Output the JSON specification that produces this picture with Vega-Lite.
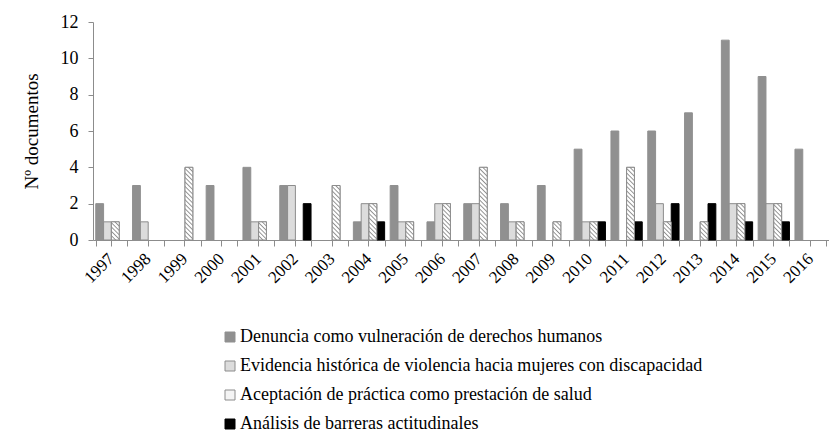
{
  "$schema": "https://vega.github.io/schema/vega-lite/v6.json",
  "width": 736,
  "height": 218,
  "autosize": {"type": "none"},
  "padding": {"left": 93, "top": 22, "right": 0, "bottom": 199},
  "background": "white",
  "config": {
    "view": {"stroke": null},
    "font": "Liberation Serif",
    "axis": {"grid": false, "domainColor": "#8c8c8c", "tickColor": "#8c8c8c", "labelColor": "#000000", "labelFont": "Liberation Serif", "titleFont": "Liberation Serif", "titleColor": "#000000", "titleFontWeight": "normal"},
    "legend": {"labelFont": "Liberation Serif", "labelColor": "#000000"}
  },
  "data": {"values": [
    {"year": "1997", "serie": "Denuncia como vulneración de derechos humanos", "value": 2},
    {"year": "1997", "serie": "Evidencia histórica de violencia hacia mujeres con discapacidad", "value": 1},
    {"year": "1997", "serie": "Aceptación de práctica como prestación de salud", "value": 1},
    {"year": "1998", "serie": "Denuncia como vulneración de derechos humanos", "value": 3},
    {"year": "1998", "serie": "Evidencia histórica de violencia hacia mujeres con discapacidad", "value": 1},
    {"year": "1999", "serie": "Aceptación de práctica como prestación de salud", "value": 4},
    {"year": "2000", "serie": "Denuncia como vulneración de derechos humanos", "value": 3},
    {"year": "2001", "serie": "Denuncia como vulneración de derechos humanos", "value": 4},
    {"year": "2001", "serie": "Evidencia histórica de violencia hacia mujeres con discapacidad", "value": 1},
    {"year": "2001", "serie": "Aceptación de práctica como prestación de salud", "value": 1},
    {"year": "2002", "serie": "Denuncia como vulneración de derechos humanos", "value": 3},
    {"year": "2002", "serie": "Evidencia histórica de violencia hacia mujeres con discapacidad", "value": 3},
    {"year": "2002", "serie": "Análisis de barreras actitudinales", "value": 2},
    {"year": "2003", "serie": "Aceptación de práctica como prestación de salud", "value": 3},
    {"year": "2004", "serie": "Denuncia como vulneración de derechos humanos", "value": 1},
    {"year": "2004", "serie": "Evidencia histórica de violencia hacia mujeres con discapacidad", "value": 2},
    {"year": "2004", "serie": "Aceptación de práctica como prestación de salud", "value": 2},
    {"year": "2004", "serie": "Análisis de barreras actitudinales", "value": 1},
    {"year": "2005", "serie": "Denuncia como vulneración de derechos humanos", "value": 3},
    {"year": "2005", "serie": "Evidencia histórica de violencia hacia mujeres con discapacidad", "value": 1},
    {"year": "2005", "serie": "Aceptación de práctica como prestación de salud", "value": 1},
    {"year": "2006", "serie": "Denuncia como vulneración de derechos humanos", "value": 1},
    {"year": "2006", "serie": "Evidencia histórica de violencia hacia mujeres con discapacidad", "value": 2},
    {"year": "2006", "serie": "Aceptación de práctica como prestación de salud", "value": 2},
    {"year": "2007", "serie": "Denuncia como vulneración de derechos humanos", "value": 2},
    {"year": "2007", "serie": "Evidencia histórica de violencia hacia mujeres con discapacidad", "value": 2},
    {"year": "2007", "serie": "Aceptación de práctica como prestación de salud", "value": 4},
    {"year": "2008", "serie": "Denuncia como vulneración de derechos humanos", "value": 2},
    {"year": "2008", "serie": "Evidencia histórica de violencia hacia mujeres con discapacidad", "value": 1},
    {"year": "2008", "serie": "Aceptación de práctica como prestación de salud", "value": 1},
    {"year": "2009", "serie": "Denuncia como vulneración de derechos humanos", "value": 3},
    {"year": "2009", "serie": "Aceptación de práctica como prestación de salud", "value": 1},
    {"year": "2010", "serie": "Denuncia como vulneración de derechos humanos", "value": 5},
    {"year": "2010", "serie": "Evidencia histórica de violencia hacia mujeres con discapacidad", "value": 1},
    {"year": "2010", "serie": "Aceptación de práctica como prestación de salud", "value": 1},
    {"year": "2010", "serie": "Análisis de barreras actitudinales", "value": 1},
    {"year": "2011", "serie": "Denuncia como vulneración de derechos humanos", "value": 6},
    {"year": "2011", "serie": "Aceptación de práctica como prestación de salud", "value": 4},
    {"year": "2011", "serie": "Análisis de barreras actitudinales", "value": 1},
    {"year": "2012", "serie": "Denuncia como vulneración de derechos humanos", "value": 6},
    {"year": "2012", "serie": "Evidencia histórica de violencia hacia mujeres con discapacidad", "value": 2},
    {"year": "2012", "serie": "Aceptación de práctica como prestación de salud", "value": 1},
    {"year": "2012", "serie": "Análisis de barreras actitudinales", "value": 2},
    {"year": "2013", "serie": "Denuncia como vulneración de derechos humanos", "value": 7},
    {"year": "2013", "serie": "Aceptación de práctica como prestación de salud", "value": 1},
    {"year": "2013", "serie": "Análisis de barreras actitudinales", "value": 2},
    {"year": "2014", "serie": "Denuncia como vulneración de derechos humanos", "value": 11},
    {"year": "2014", "serie": "Evidencia histórica de violencia hacia mujeres con discapacidad", "value": 2},
    {"year": "2014", "serie": "Aceptación de práctica como prestación de salud", "value": 2},
    {"year": "2014", "serie": "Análisis de barreras actitudinales", "value": 1},
    {"year": "2015", "serie": "Denuncia como vulneración de derechos humanos", "value": 9},
    {"year": "2015", "serie": "Evidencia histórica de violencia hacia mujeres con discapacidad", "value": 2},
    {"year": "2015", "serie": "Aceptación de práctica como prestación de salud", "value": 2},
    {"year": "2015", "serie": "Análisis de barreras actitudinales", "value": 1},
    {"year": "2016", "serie": "Denuncia como vulneración de derechos humanos", "value": 5}
  ]},
  "encoding": {
    "y": {"field": "value", "type": "quantitative", "scale": {"domain": [0, 12], "nice": false}, "axis": {"title": "Nº documentos", "values": [0, 2, 4, 6, 8, 10, 12], "tickSize": 5, "labelPadding": 10, "labelFontSize": 18, "titleFontSize": 19, "titlePadding": 19}},
    "xOffset": {"field": "serie", "type": "nominal", "scale": {"domain": ["Denuncia como vulneración de derechos humanos", "Evidencia histórica de violencia hacia mujeres con discapacidad", "Aceptación de práctica como prestación de salud", "Análisis de barreras actitudinales"], "paddingInner": 0, "paddingOuter": 0}}
  },
  "layer": [
    {
      "mark": {"type": "bar", "strokeWidth": 1},
      "encoding": {
        "x": {"field": "year", "type": "nominal", "scale": {"paddingInner": 0.15, "paddingOuter": 0.075}, "axis": {"orient": "bottom", "title": null, "labelAngle": -45, "labelAlign": "right", "labelBaseline": "middle", "labelFontSize": 17, "labelPadding": 10, "tickSize": 6, "labelOverlap": false}},
        "color": {"field": "serie", "type": "nominal", "scale": {"domain": ["Denuncia como vulneración de derechos humanos", "Evidencia histórica de violencia hacia mujeres con discapacidad", "Aceptación de práctica como prestación de salud", "Análisis de barreras actitudinales"], "range": ["#909090", "#dcdcdc", "#f4f4f4", "#000000"]},
          "legend": {"orient": "none", "legendX": 128, "legendY": 306, "direction": "vertical", "title": null, "labelFontSize": 18, "symbolType": "square", "symbolSize": 100, "rowPadding": 11, "labelOffset": 1, "padding": 0, "labelLimit": 0, "symbolStrokeColor": "#8c8c8c", "symbolStrokeWidth": 1}},
        "stroke": {"field": "serie", "type": "nominal", "scale": {"domain": ["Denuncia como vulneración de derechos humanos", "Evidencia histórica de violencia hacia mujeres con discapacidad", "Aceptación de práctica como prestación de salud", "Análisis de barreras actitudinales"], "range": ["#909090", "#8c8c8c", "#8c8c8c", "#000000"]}, "legend": null}
      }
    },
    {
      "transform": [{"filter": "datum.serie === 'Aceptación de práctica como prestación de salud' && datum.value === 1"}],
      "mark": {"type": "bar", "stroke": "#8c8c8c", "strokeWidth": 1, "fill": {"gradient": "linear", "x1": 0, "y1": 1, "x2": 0.5195, "y2": -0.2069, "stops": [
        {"offset": 0, "color": "#909090"}, {"offset": 0.05, "color": "#ffffff"}, {"offset": 0.1167, "color": "#ffffff"},
        {"offset": 0.1667, "color": "#909090"}, {"offset": 0.2167, "color": "#ffffff"}, {"offset": 0.2833, "color": "#ffffff"},
        {"offset": 0.3333, "color": "#909090"}, {"offset": 0.3833, "color": "#ffffff"}, {"offset": 0.45, "color": "#ffffff"},
        {"offset": 0.5, "color": "#909090"}, {"offset": 0.55, "color": "#ffffff"}, {"offset": 0.6167, "color": "#ffffff"},
        {"offset": 0.6667, "color": "#909090"}, {"offset": 0.7167, "color": "#ffffff"}, {"offset": 0.7833, "color": "#ffffff"},
        {"offset": 0.8333, "color": "#909090"}, {"offset": 0.8833, "color": "#ffffff"}, {"offset": 0.95, "color": "#ffffff"},
        {"offset": 1, "color": "#909090"}]}},
      "encoding": {"x": {"field": "year", "type": "nominal", "scale": {"paddingInner": 0.15, "paddingOuter": 0.075}, "axis": null}}
    },
    {
      "transform": [{"filter": "datum.serie === 'Aceptación de práctica como prestación de salud' && datum.value === 2"}],
      "mark": {"type": "bar", "stroke": "#8c8c8c", "strokeWidth": 1, "fill": {"gradient": "linear", "x1": 0, "y1": 1, "x2": 0.25, "y2": -0.1615, "stops": [
        {"offset": 0, "color": "#909090"}, {"offset": 0.03, "color": "#ffffff"}, {"offset": 0.07, "color": "#ffffff"},
        {"offset": 0.1, "color": "#909090"}, {"offset": 0.13, "color": "#ffffff"}, {"offset": 0.17, "color": "#ffffff"},
        {"offset": 0.2, "color": "#909090"}, {"offset": 0.23, "color": "#ffffff"}, {"offset": 0.27, "color": "#ffffff"},
        {"offset": 0.3, "color": "#909090"}, {"offset": 0.33, "color": "#ffffff"}, {"offset": 0.37, "color": "#ffffff"},
        {"offset": 0.4, "color": "#909090"}, {"offset": 0.43, "color": "#ffffff"}, {"offset": 0.47, "color": "#ffffff"},
        {"offset": 0.5, "color": "#909090"}, {"offset": 0.53, "color": "#ffffff"}, {"offset": 0.57, "color": "#ffffff"},
        {"offset": 0.6, "color": "#909090"}, {"offset": 0.63, "color": "#ffffff"}, {"offset": 0.67, "color": "#ffffff"},
        {"offset": 0.7, "color": "#909090"}, {"offset": 0.73, "color": "#ffffff"}, {"offset": 0.77, "color": "#ffffff"},
        {"offset": 0.8, "color": "#909090"}, {"offset": 0.83, "color": "#ffffff"}, {"offset": 0.87, "color": "#ffffff"},
        {"offset": 0.9, "color": "#909090"}, {"offset": 0.93, "color": "#ffffff"}, {"offset": 0.97, "color": "#ffffff"},
        {"offset": 1, "color": "#909090"}]}},
      "encoding": {"x": {"field": "year", "type": "nominal", "scale": {"paddingInner": 0.15, "paddingOuter": 0.075}, "axis": null}}
    },
    {
      "transform": [{"filter": "datum.serie === 'Aceptación de práctica como prestación de salud' && datum.value === 3"}],
      "mark": {"type": "bar", "stroke": "#8c8c8c", "strokeWidth": 1, "fill": {"gradient": "linear", "x1": 0, "y1": 1, "x2": 0.1608, "y2": -0.1204, "stops": [
        {"offset": 0, "color": "#909090"}, {"offset": 0.0214, "color": "#ffffff"}, {"offset": 0.05, "color": "#ffffff"},
        {"offset": 0.0714, "color": "#909090"}, {"offset": 0.0929, "color": "#ffffff"}, {"offset": 0.1214, "color": "#ffffff"},
        {"offset": 0.1429, "color": "#909090"}, {"offset": 0.1643, "color": "#ffffff"}, {"offset": 0.1929, "color": "#ffffff"},
        {"offset": 0.2143, "color": "#909090"}, {"offset": 0.2357, "color": "#ffffff"}, {"offset": 0.2643, "color": "#ffffff"},
        {"offset": 0.2857, "color": "#909090"}, {"offset": 0.3071, "color": "#ffffff"}, {"offset": 0.3357, "color": "#ffffff"},
        {"offset": 0.3571, "color": "#909090"}, {"offset": 0.3786, "color": "#ffffff"}, {"offset": 0.4071, "color": "#ffffff"},
        {"offset": 0.4286, "color": "#909090"}, {"offset": 0.45, "color": "#ffffff"}, {"offset": 0.4786, "color": "#ffffff"},
        {"offset": 0.5, "color": "#909090"}, {"offset": 0.5214, "color": "#ffffff"}, {"offset": 0.55, "color": "#ffffff"},
        {"offset": 0.5714, "color": "#909090"}, {"offset": 0.5929, "color": "#ffffff"}, {"offset": 0.6214, "color": "#ffffff"},
        {"offset": 0.6429, "color": "#909090"}, {"offset": 0.6643, "color": "#ffffff"}, {"offset": 0.6929, "color": "#ffffff"},
        {"offset": 0.7143, "color": "#909090"}, {"offset": 0.7357, "color": "#ffffff"}, {"offset": 0.7643, "color": "#ffffff"},
        {"offset": 0.7857, "color": "#909090"}, {"offset": 0.8071, "color": "#ffffff"}, {"offset": 0.8357, "color": "#ffffff"},
        {"offset": 0.8571, "color": "#909090"}, {"offset": 0.8786, "color": "#ffffff"}, {"offset": 0.9071, "color": "#ffffff"},
        {"offset": 0.9286, "color": "#909090"}, {"offset": 0.95, "color": "#ffffff"}, {"offset": 0.9786, "color": "#ffffff"},
        {"offset": 1, "color": "#909090"}]}},
      "encoding": {"x": {"field": "year", "type": "nominal", "scale": {"paddingInner": 0.15, "paddingOuter": 0.075}, "axis": null}}
    },
    {
      "transform": [{"filter": "datum.serie === 'Aceptación de práctica como prestación de salud' && datum.value === 4"}],
      "mark": {"type": "bar", "stroke": "#8c8c8c", "strokeWidth": 1, "fill": {"gradient": "linear", "x1": 0, "y1": 1, "x2": 0.1178, "y2": -0.0949, "stops": [
        {"offset": 0, "color": "#909090"}, {"offset": 0.0167, "color": "#ffffff"}, {"offset": 0.0389, "color": "#ffffff"},
        {"offset": 0.0556, "color": "#909090"}, {"offset": 0.0722, "color": "#ffffff"}, {"offset": 0.0944, "color": "#ffffff"},
        {"offset": 0.1111, "color": "#909090"}, {"offset": 0.1278, "color": "#ffffff"}, {"offset": 0.15, "color": "#ffffff"},
        {"offset": 0.1667, "color": "#909090"}, {"offset": 0.1833, "color": "#ffffff"}, {"offset": 0.2056, "color": "#ffffff"},
        {"offset": 0.2222, "color": "#909090"}, {"offset": 0.2389, "color": "#ffffff"}, {"offset": 0.2611, "color": "#ffffff"},
        {"offset": 0.2778, "color": "#909090"}, {"offset": 0.2944, "color": "#ffffff"}, {"offset": 0.3167, "color": "#ffffff"},
        {"offset": 0.3333, "color": "#909090"}, {"offset": 0.35, "color": "#ffffff"}, {"offset": 0.3722, "color": "#ffffff"},
        {"offset": 0.3889, "color": "#909090"}, {"offset": 0.4056, "color": "#ffffff"}, {"offset": 0.4278, "color": "#ffffff"},
        {"offset": 0.4444, "color": "#909090"}, {"offset": 0.4611, "color": "#ffffff"}, {"offset": 0.4833, "color": "#ffffff"},
        {"offset": 0.5, "color": "#909090"}, {"offset": 0.5167, "color": "#ffffff"}, {"offset": 0.5389, "color": "#ffffff"},
        {"offset": 0.5556, "color": "#909090"}, {"offset": 0.5722, "color": "#ffffff"}, {"offset": 0.5944, "color": "#ffffff"},
        {"offset": 0.6111, "color": "#909090"}, {"offset": 0.6278, "color": "#ffffff"}, {"offset": 0.65, "color": "#ffffff"},
        {"offset": 0.6667, "color": "#909090"}, {"offset": 0.6833, "color": "#ffffff"}, {"offset": 0.7056, "color": "#ffffff"},
        {"offset": 0.7222, "color": "#909090"}, {"offset": 0.7389, "color": "#ffffff"}, {"offset": 0.7611, "color": "#ffffff"},
        {"offset": 0.7778, "color": "#909090"}, {"offset": 0.7944, "color": "#ffffff"}, {"offset": 0.8167, "color": "#ffffff"},
        {"offset": 0.8333, "color": "#909090"}, {"offset": 0.85, "color": "#ffffff"}, {"offset": 0.8722, "color": "#ffffff"},
        {"offset": 0.8889, "color": "#909090"}, {"offset": 0.9056, "color": "#ffffff"}, {"offset": 0.9278, "color": "#ffffff"},
        {"offset": 0.9444, "color": "#909090"}, {"offset": 0.9611, "color": "#ffffff"}, {"offset": 0.9833, "color": "#ffffff"},
        {"offset": 1, "color": "#909090"}]}},
      "encoding": {"x": {"field": "year", "type": "nominal", "scale": {"paddingInner": 0.15, "paddingOuter": 0.075}, "axis": {"orient": "bottom", "title": null, "labels": false, "domain": false, "tickBand": "extent", "tickSize": 6}}}
    }
  ],
  "resolve": {"axis": {"x": "independent"}}
}
